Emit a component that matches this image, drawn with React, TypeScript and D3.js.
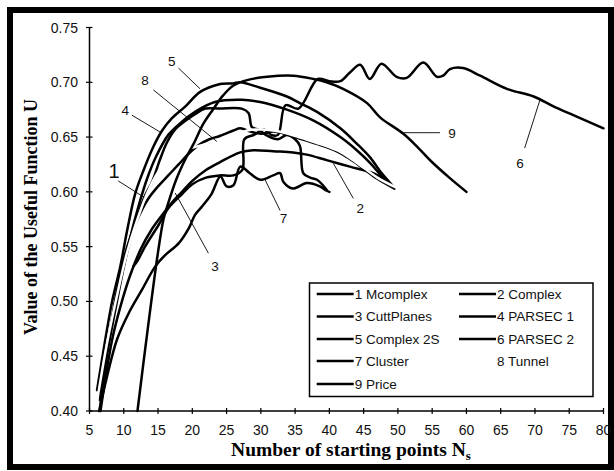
import React from "react";
import * as d3 from "d3";

const W = 614;
const H = 471;

const seriesNames = [
  "1 Mcomplex", "2 Complex", "3 CuttPlanes", "4 PARSEC 1", "5 Complex 2S",
  "6 PARSEC 2", "7 Cluster", "8 Tunnel", "9 Price",
];
const xTicks = [5, 10, 15, 20, 25, 30, 35, 40, 45, 50, 55, 60, 65, 70, 75, 80];
const yTicks = [0.4, 0.45, 0.5, 0.55, 0.6, 0.65, 0.7, 0.75];

type P = [number, number];

const s1: P[] = [
  [6.5, 0.41], [7.8, 0.46], [9, 0.5], [10.3, 0.54], [11.5, 0.568], [13, 0.595], [14.2, 0.61],
  [15.2, 0.628], [16.3, 0.645], [17.5, 0.657], [19, 0.665], [20.4, 0.671], [21.9, 0.676],
  [24, 0.676], [27.2, 0.676], [28.2, 0.672], [28.7, 0.659], [29.6, 0.657], [31, 0.651],
  [32.5, 0.648], [33.8, 0.652], [35, 0.648], [35.7, 0.642], [36.2, 0.617], [37.2, 0.613],
  [38.2, 0.611], [39.6, 0.602],
];
const s2: P[] = [
  [6.6, 0.4], [8.3, 0.465], [9.5, 0.495], [11, 0.525], [12.5, 0.548], [14, 0.565], [15.5, 0.578],
  [17, 0.59], [18.5, 0.6], [20, 0.61], [22, 0.62], [24, 0.627], [27, 0.636], [28.9, 0.638],
  [31.8, 0.637], [34.7, 0.636], [36.7, 0.634], [39.6, 0.629], [43, 0.623], [46.4, 0.617],
  [48.4, 0.61], [49.2, 0.605],
];
const s3: P[] = [
  [6.6, 0.405], [7.8, 0.465], [9, 0.51], [10.5, 0.55], [12, 0.575], [13.5, 0.593], [15, 0.605],
  [16.5, 0.615], [18, 0.625], [19.5, 0.635], [21, 0.643], [22.5, 0.648], [24, 0.651],
  [26, 0.656], [27, 0.658], [28.5, 0.655], [30, 0.653], [31.8, 0.655], [34, 0.652],
  [36, 0.648], [38, 0.644], [41.1, 0.637], [43, 0.63], [45, 0.621], [47, 0.612], [49.5, 0.603],
];
const s4: P[] = [
  [6.4, 0.415], [7.6, 0.46], [8.7, 0.497], [9.9, 0.53], [11, 0.56], [12.2, 0.588], [13.4, 0.612],
  [14.7, 0.632], [16.5, 0.652], [18.5, 0.664], [20.4, 0.673], [23.3, 0.682], [27.2, 0.684],
  [29.9, 0.682], [33.8, 0.675], [37.7, 0.665], [41.6, 0.65], [44, 0.638], [46, 0.626],
  [47.4, 0.616], [49, 0.606],
];
const s5: P[] = [
  [6.1, 0.419], [7.3, 0.465], [8.3, 0.5], [9.5, 0.532], [10.5, 0.565], [11.7, 0.599], [12.9, 0.62],
  [14.3, 0.641], [15.6, 0.656], [17, 0.667], [19, 0.678], [21.1, 0.691], [23.8, 0.698],
  [26, 0.699], [27, 0.7], [29.9, 0.695], [33.8, 0.687], [35.7, 0.681], [38.2, 0.673],
  [41.6, 0.658], [44, 0.644], [46, 0.631], [47.5, 0.618], [49.3, 0.605],
];
const s6: P[] = [
  [11.4, 0.532], [12, 0.537], [13.1, 0.55], [15.1, 0.57], [16.5, 0.585], [18.5, 0.598],
  [20, 0.607], [22, 0.613], [24, 0.615], [26, 0.615], [27.3, 0.62], [27.6, 0.648], [29, 0.652],
  [30.5, 0.657], [31.5, 0.652], [32.5, 0.652], [33.6, 0.679], [35.5, 0.676], [38.3, 0.703],
  [40, 0.701], [41.6, 0.701], [43, 0.709], [44.5, 0.716], [45.9, 0.703], [47.6, 0.717],
  [49.8, 0.705], [51.3, 0.704], [53.7, 0.718], [55.7, 0.705], [56.6, 0.706], [57.6, 0.712],
  [59.5, 0.713], [62, 0.706], [65.9, 0.694], [69.8, 0.687], [72.7, 0.678], [75.6, 0.67],
  [80, 0.658],
];
const s7: P[] = [
  [6.4, 0.4], [7.5, 0.43], [9, 0.465], [10.7, 0.489], [12.6, 0.51], [14.6, 0.532], [16, 0.542],
  [18, 0.553], [19.5, 0.567], [20.4, 0.579], [21.6, 0.588], [22.8, 0.598], [24.1, 0.614],
  [25, 0.605], [26, 0.606], [27, 0.623], [28.4, 0.617], [29.9, 0.611], [31.8, 0.615],
  [32.8, 0.617], [33.3, 0.609], [34.7, 0.603], [36.7, 0.608], [38.6, 0.605], [39.6, 0.601],
  [40, 0.6],
];
const s8: P[] = [
  [6.0, 0.405], [7.5, 0.46], [9, 0.505], [10.5, 0.545], [12, 0.575], [13.5, 0.6], [15, 0.618],
  [17, 0.632], [19, 0.638], [21, 0.642], [23.6, 0.646], [26, 0.651], [28, 0.656], [30, 0.657],
  [31.8, 0.656], [34, 0.653], [36, 0.649], [38, 0.645], [41.1, 0.638], [43, 0.631],
  [45, 0.622], [47, 0.613], [49.7, 0.604],
];
const s9: P[] = [
  [12, 0.4], [13.5, 0.475], [15, 0.545], [15.8, 0.575], [16.5, 0.59], [17.7, 0.612], [19, 0.63],
  [20.2, 0.644], [21.6, 0.662], [23, 0.675], [24.5, 0.688], [26, 0.697], [28, 0.702],
  [30.9, 0.705], [34.7, 0.706], [37.7, 0.703], [39.6, 0.7], [42, 0.694], [45.5, 0.681],
  [47.4, 0.668], [50.8, 0.653], [53, 0.64], [55, 0.627], [57.5, 0.613], [60, 0.6],
];
const seriesData = [s1, s2, s3, s4, s5, s6, s7, s8, s9];
const seriesColors = ["#000", "#000", "#000", "#000", "#000", "#000", "#000", "#fff", "#000"];

const labelTexts = ["1", "4", "8", "5", "3", "7", "2", "9", "6"];
const labelAt: P[] = [
  [8.6, 0.619], [10.2, 0.675], [13.1, 0.702], [17.0, 0.719], [23.3, 0.532],
  [33.3, 0.576], [44.5, 0.585], [57.9, 0.654], [67.8, 0.626],
];
const leaderFrom: P[] = [
  [9.19, 0.61], [11.18, 0.67], [14.33, 0.693], [17.98, 0.713], [22.35, 0.544],
  [32.81, 0.583], [43.5, 0.594], [50.79, 0.654], [68.5, 0.64],
];
const leaderTo: P[] = [
  [12.98, 0.595], [15.46, 0.654], [23.58, 0.646], [21.14, 0.694], [17.5, 0.599],
  [30.62, 0.611], [40.58, 0.626], [56.14, 0.654], [70.73, 0.684],
];
const labelSizes = [20, 13.5, 13.5, 13.5, 13.5, 13.5, 13.5, 13.5, 13.5];

const SANS = "'Liberation Sans', Arial, sans-serif";
const SERIF = "'Liberation Serif', 'Times New Roman', serif";

export default function App() {
  const x = d3.scaleLinear().domain([5, 80]).range([89.5, 603.5]);
  const y = d3.scaleLinear().domain([0.4, 0.75]).range([411, 27.5]);
  const line = d3
    .line<P>()
    .x((d) => x(d[0]))
    .y((d) => y(d[1]))
    .curve(d3.curveCatmullRom.alpha(0.5));

  const legendRows = [[0, 1], [2, 3], [4, 5], [6, 7], [8]];
  const legX = [316.7, 459];
  const legY = [294, 316.5, 339, 361, 384];

  return (
    <svg
      width={W}
      height={H}
      style={{ position: "absolute", left: 0, top: 0, background: "#fff" }}
    >
      <rect x={0} y={0} width={W} height={H} fill="#fff" />
      <rect x={10} y={10} width={601} height={457} fill="none" stroke="#000" strokeWidth={6} />

      {/* axes */}
      <line x1={x(5)} x2={x(80)} y1={y(0.4)} y2={y(0.4)} stroke="#000" strokeWidth={1.5} />
      <line x1={x(5)} x2={x(5)} y1={y(0.4)} y2={y(0.75)} stroke="#000" strokeWidth={1.5} />
      {xTicks.map((t) => (
        <g key={"xt" + t}>
          <line x1={x(t)} x2={x(t)} y1={y(0.4) - 3} y2={y(0.4) + 3} stroke="#000" strokeWidth={1.2} />
          <text x={x(t)} y={435} textAnchor="middle" fontFamily={SANS} fontSize={14} fill="#111">
            {t}
          </text>
        </g>
      ))}
      {yTicks.map((t) => (
        <g key={"yt" + t}>
          <line x1={x(5) - 3.5} x2={x(5) + 3} y1={y(t)} y2={y(t)} stroke="#000" strokeWidth={1.2} />
          <text
            x={78}
            y={y(t)}
            dy="0.36em"
            textAnchor="end"
            fontFamily={SANS}
            fontSize={14}
            fill="#111"
          >
            {t.toFixed(2)}
          </text>
        </g>
      ))}

      {/* series */}
      {seriesData.map((d, i) => (
        <path
          key={"s" + i}
          d={line(d) || ""}
          fill="none"
          stroke={seriesColors[i]}
          strokeWidth={2.5}
          strokeLinejoin="round"
          strokeLinecap="round"
        />
      ))}

      {/* annotations */}
      {labelTexts.map((t, i) => (
        <g key={"lab" + i}>
          <line
            x1={x(leaderFrom[i][0])}
            y1={y(leaderFrom[i][1])}
            x2={x(leaderTo[i][0])}
            y2={y(leaderTo[i][1])}
            stroke="#000"
            strokeWidth={0.9}
          />
          <text
            x={x(labelAt[i][0])}
            y={y(labelAt[i][1])}
            dy="0.36em"
            textAnchor="middle"
            fontFamily={SANS}
            fontSize={labelSizes[i]}
            fill="#111"
          >
            {t}
          </text>
        </g>
      ))}

      {/* legend */}
      <rect x={309.5} y={283} width={283.5} height={113.5} fill="#fff" stroke="#000" strokeWidth={1.5} />
      {legendRows.map((row, r) =>
        row.map((si, c) => (
          <g key={"leg" + si}>
            <line
              x1={legX[c]}
              x2={legX[c] + 37}
              y1={legY[r]}
              y2={legY[r]}
              stroke={seriesColors[si]}
              strokeWidth={2.5}
            />
            <text
              x={legX[c] + 38}
              y={legY[r]}
              dy="0.36em"
              fontFamily={SANS}
              fontSize={13.5}
              fill="#111"
            >
              {seriesNames[si]}
            </text>
          </g>
        ))
      )}

      {/* titles */}
      <text x={351} y={456} textAnchor="middle" fontFamily={SERIF} fontWeight="bold" fontSize={19.5}>
        Number of starting points N
        <tspan fontSize={13} dy={4}>s</tspan>
      </text>
      <text
        transform="translate(37,217) rotate(-90)"
        textAnchor="middle"
        fontFamily={SERIF}
        fontWeight="bold"
        fontSize={18}
      >
        Value of the Useful Function U
      </text>
    </svg>
  );
}
